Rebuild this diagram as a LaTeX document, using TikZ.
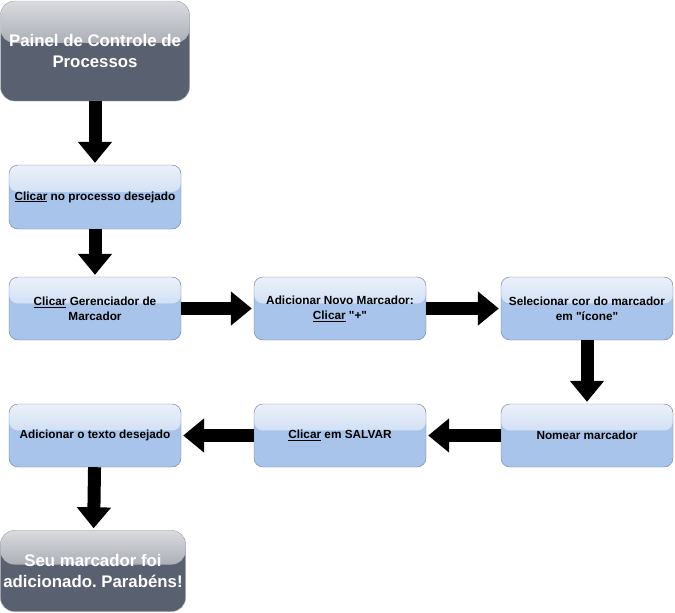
\documentclass[tikz,border=0pt]{standalone}
\usepackage{fontspec}
\setmainfont{Liberation Sans}[Ligatures=TeXOff]
\usepackage{tikz}
\usetikzlibrary{arrows.meta, positioning, calc, fadings}

\definecolor{boxblue}{HTML}{A9C4EB}
\definecolor{boxblueline}{HTML}{6C7E96}
\definecolor{boxgrey}{HTML}{596070}
\definecolor{boxgreyline}{HTML}{A8ACB4}

\begin{document}
\frenchspacing
\begin{tikzpicture}[
    x=1pt, y=-1pt,
    glass/.style={path picture={
        \fill[white, opacity=0.75, path fading=south]
          (path picture bounding box.north west) rectangle
          ($(path picture bounding box.north east)!0.42!(path picture bounding box.south east)$);
        \fill[white, opacity=0.12]
          (path picture bounding box.north west) rectangle
          ($(path picture bounding box.north east)!0.42!(path picture bounding box.south east)$);}},
    stepbox/.style={draw=boxblueline, fill=boxblue, rounded corners=9pt, glass,
        minimum width=172pt, minimum height=63pt, inner sep=3pt, align=center,
        font=\fontsize{11.8pt}{15pt}\selectfont\bfseries},
    endbox/.style={draw=boxgreyline, fill=boxgrey, rounded corners=14pt, glass, inner sep=3pt,
        text=white, align=center, font=\fontsize{16.8pt}{21pt}\selectfont\bfseries},
    arrow/.style={-{Triangle[length=21pt, width=33pt]}, line width=13pt, shorten >=2pt}
]
\useasboundingbox (0,0) rectangle (675,613);

\node[endbox, minimum width=189pt, minimum height=100pt] (painel) at (95,51) {Painel de Controle de\\Processos};
\node[stepbox, minimum height=64pt] (processo) at (95,197) {\underline{Clicar} no processo desejado};
\node[stepbox] (gerenciador) at (95,308.5) {\underline{Clicar} Gerenciador de\\Marcador};
\node[stepbox] (novo) at (340,308.5) {Adicionar Novo Marcador:\\\underline{Clicar} "+"};
\node[stepbox] (cor) at (587,308.5) {Selecionar cor do marcador\\em "ícone"};
\node[stepbox] (nomear) at (587,435.5) {Nomear marcador};
\node[stepbox] (salvar) at (340,435.5) {\underline{Clicar} em SALVAR};
\node[stepbox] (texto) at (95,435.5) {Adicionar o texto desejado};
\node[endbox, minimum width=185pt, minimum height=81pt] (fim) at (93,571) {Seu marcador foi\\adicionado. Parabéns!};

\draw[arrow] (painel) -- (processo);
\draw[arrow] (processo) -- (gerenciador);
\draw[arrow] (gerenciador) -- (novo);
\draw[arrow] (novo) -- (cor);
\draw[arrow] (cor) -- (nomear);
\draw[arrow] (nomear) -- (salvar);
\draw[arrow] (salvar) -- (texto);
\draw[arrow] (texto) -- (fim);
\end{tikzpicture}
\end{document}
